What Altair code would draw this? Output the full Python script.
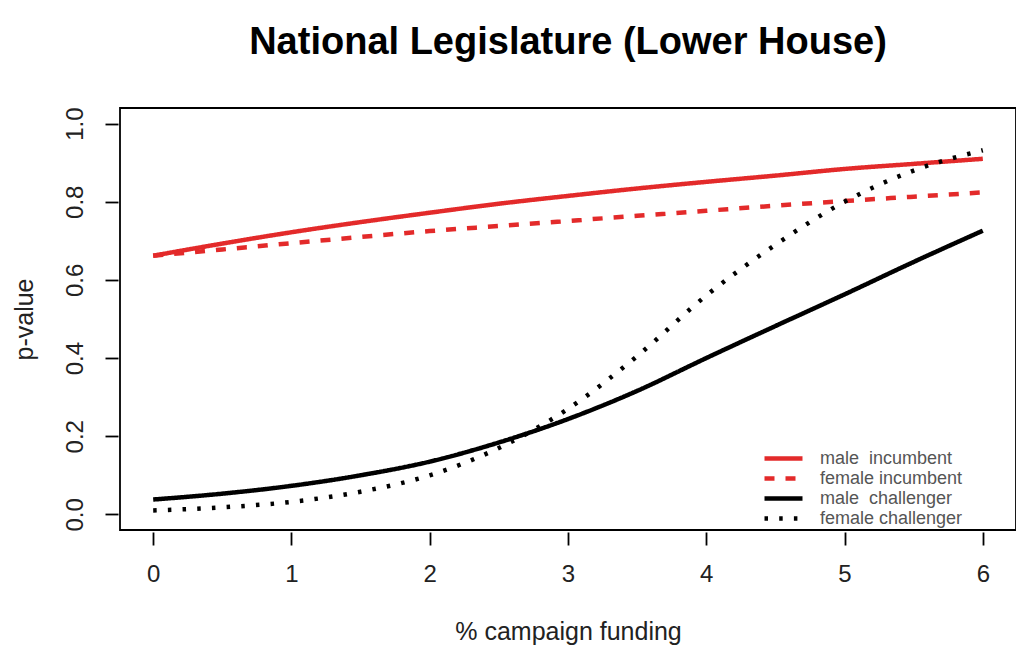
import altair as alt
import pandas as pd

x_vals = [0, 0.5, 1, 1.5, 2, 2.5, 3, 3.5, 4, 4.5, 5, 5.5, 6]
male_incumbent = [0.662, 0.693, 0.722, 0.748, 0.772, 0.795, 0.815, 0.834, 0.851, 0.867, 0.884, 0.897, 0.910]
female_incumbent = [0.662, 0.678, 0.694, 0.710, 0.725, 0.738, 0.751, 0.764, 0.777, 0.790, 0.802, 0.813, 0.824]
male_challenger = [0.038, 0.053, 0.073, 0.100, 0.135, 0.184, 0.244, 0.316, 0.400, 0.482, 0.563, 0.646, 0.726]
female_challenger = [0.010, 0.018, 0.032, 0.058, 0.100, 0.170, 0.270, 0.405, 0.560, 0.690, 0.800, 0.880, 0.932]

series_names = ["male\u00a0 incumbent", "female incumbent", "male\u00a0 challenger", "female challenger"]
series_values = [male_incumbent, female_incumbent, male_challenger, female_challenger]
x_ticks = [0, 1, 2, 3, 4, 5, 6]
y_ticks = [0.0, 0.2, 0.4, 0.6, 0.8, 1.0]

rows = []
for name, vals in zip(series_names, series_values):
    for xv, yv in zip(x_vals, vals):
        rows.append({"funding": xv, "p": yv, "series": name})
df = pd.DataFrame(rows)

RED = "#e32a2a"
FONT = "Liberation Sans"

legend = alt.Legend(
    title=None,
    orient="none",
    legendX=653,
    legendY=340,
    symbolType="M-2.375,0H2.375",
    symbolSize=256,
    labelFont=FONT,
    labelFontSize=18,
    labelColor="#555555",
    labelOffset=26,
    rowPadding=0,
    padding=0,
)

chart = alt.Chart(df).mark_line(strokeCap="butt", clip=True, interpolate="monotone").encode(
    x=alt.X("funding:Q",
            scale=alt.Scale(domain=[-0.24, 6.24], nice=False, zero=False),
            axis=alt.Axis(values=x_ticks, title="% campaign funding", format="d")),
    y=alt.Y("p:Q",
            scale=alt.Scale(domain=[-0.04, 1.04], nice=False, zero=False),
            axis=alt.Axis(values=y_ticks, title="p-value", format=".1f", labelAngle=270)),
    color=alt.Color("series:N",
                    scale=alt.Scale(domain=series_names, range=[RED, RED, "black", "black"]),
                    legend=legend),
    strokeDash=alt.StrokeDash("series:N",
                              scale=alt.Scale(domain=series_names,
                                              range=[[1, 0], [10, 11], [1, 0], [3.5, 11.2]]),
                              legend=legend),
    strokeWidth=alt.StrokeWidth("series:N",
                                scale=alt.Scale(domain=series_names, range=[4.5, 4.5, 2.5, 4.5]),
                                legend=legend),
    order=alt.Order("funding:Q"),
).properties(
    width=896,
    height=422,
    title=alt.TitleParams(
        "National Legislature (Lower House)",
        font=FONT, fontSize=38, fontWeight="bold", color="black",
        anchor="middle", offset=45,
    ),
    autosize=alt.AutoSizeParams(type="none"),
    padding={"left": 112, "top": 100, "right": 0, "bottom": 116},
).configure_view(
    stroke="black", strokeWidth=1.8
).configure_axis(
    grid=False,
    domain=False,
    ticks=True,
    tickSize=13,
    tickWidth=1.8,
    tickColor="black",
    offset=2,
    labelFont=FONT,
    labelFontSize=24,
    labelColor="#222222",
    titleFont=FONT,
    titleFontSize=25,
    titleFontWeight="normal",
    titleColor="#222222",
).configure_axisX(
    labelPadding=17,
    titlePadding=33,
).configure_axisY(
    labelPadding=18,
    titlePadding=26,
)

chart.save("out.html", embed_options={"renderer": "svg", "actions": False})
